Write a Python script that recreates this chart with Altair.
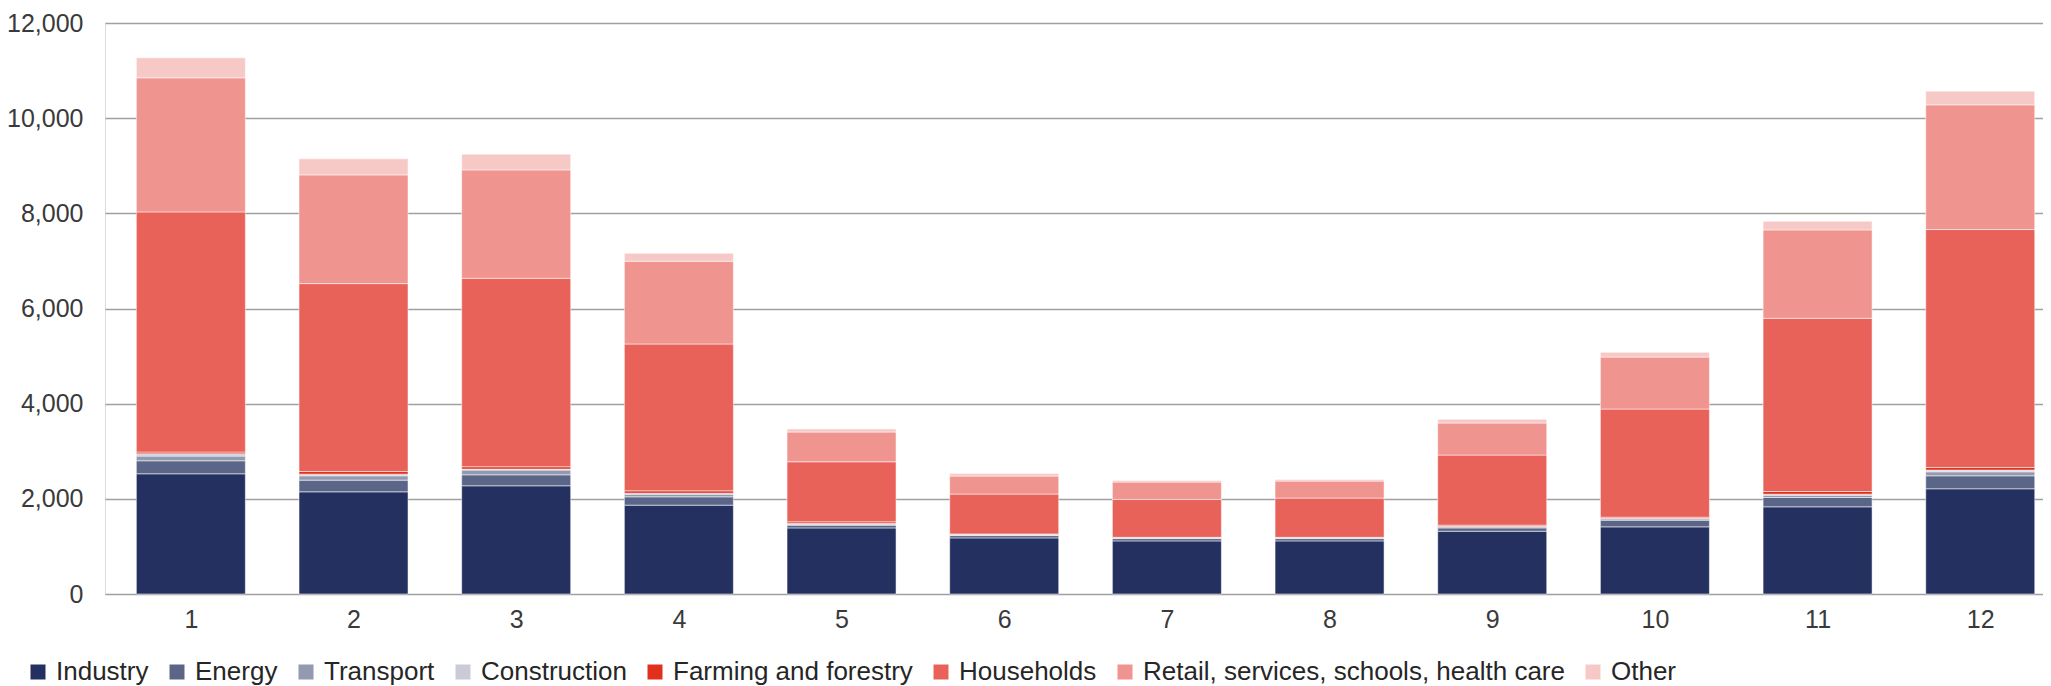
import altair as alt
import pandas as pd

months = [1, 2, 3, 4, 5, 6, 7, 8, 9, 10, 11, 12]
sectors = ["Industry", "Energy", "Transport", "Construction", "Farming and forestry",
           "Households", "Retail, services, schools, health care", "Other"]
colors = ["#243060", "#5b6588", "#9399b1", "#c9cbd8", "#e0301e", "#e8625a", "#ef948f", "#f6c9c7"]

industry = [2526, 2147, 2274, 1867, 1389, 1179, 1116, 1116, 1319, 1411, 1832, 2211]
energy = [274, 246, 231, 175, 57, 49, 49, 49, 70, 140, 196, 273]
transport = [98, 91, 99, 56, 21, 14, 14, 14, 21, 28, 49, 84]
construction = [49, 35, 21, 21, 14, 14, 7, 7, 15, 14, 21, 36]
farming = [35, 56, 49, 49, 35, 7, 5, 5, 21, 21, 56, 56]
households = [5048, 3948, 3961, 3086, 1263, 837, 796, 824, 1474, 2273, 3640, 4999]
retail = [2818, 2285, 2278, 1739, 625, 378, 365, 358, 673, 1092, 1858, 2621]
other = [421, 337, 330, 168, 63, 56, 35, 35, 77, 100, 182, 288]

y_ticks = [0, 2000, 4000, 6000, 8000, 10000, 12000]

series = [industry, energy, transport, construction, farming, households, retail, other]
rows = []
for i, m in enumerate(months):
    for j, (name, vals) in enumerate(zip(sectors, series)):
        rows.append({"month": m, "sector": name, "value": vals[i], "ord": j})
df = pd.DataFrame(rows)

FONT = "Liberation Sans"

chart = alt.Chart(df).mark_bar(
    size=109, stroke="#ffffff", strokeWidth=1, strokeOpacity=0.5
).encode(
    x=alt.X("month:Q",
            scale=alt.Scale(domain=[0.503, 12.355], nice=False, zero=False),
            axis=alt.Axis(values=months, format="d", title=None, grid=False, ticks=False,
                          domain=False, labelFontSize=25, labelPadding=13, labelFlush=False,
                          labelColor="#3a3a3a", labelFont=FONT)),
    y=alt.Y("value:Q", stack="zero",
            scale=alt.Scale(domain=[0, 12000], nice=False),
            axis=alt.Axis(values=y_ticks, format=",.0f", title=None, domain=False, ticks=False,
                          labelPadding=22, labelFontSize=25, labelColor="#3a3a3a",
                          labelFont=FONT, gridColor="#a0a0a0", gridWidth=1.5)),
    color=alt.Color("sector:N",
                    scale=alt.Scale(domain=sectors, range=colors),
                    legend=alt.Legend(orient="none", legendX=-80, legendY=636,
                                      direction="horizontal", columns=8, title=None,
                                      symbolType="square", symbolSize=225,
                                      symbolStrokeWidth=0, labelFontSize=26,
                                      labelFont=FONT, labelColor="#262626",
                                      labelOffset=5, columnPadding=15, labelLimit=1000,
                                      padding=0)),
    order=alt.Order("ord:Q", sort="ascending"),
).properties(
    width=1938, height=571,
    autosize=alt.AutoSizeParams(type="none"),
    padding={"left": 97, "top": 15, "right": 0, "bottom": 96},
).configure_view(stroke=None).configure(background="#ffffff")

chart.save("out.html", embed_options={"renderer": "svg", "actions": False})
